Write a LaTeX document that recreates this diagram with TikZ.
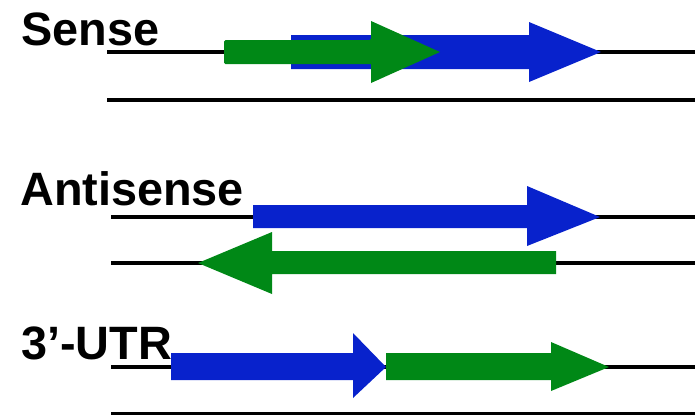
\documentclass[tikz,border=0pt]{standalone}
\usepackage{fontspec}
\setmainfont{Liberation Sans}
\definecolor{geneblue}{RGB}{8,34,204}
\definecolor{genegreen}{RGB}{0,136,22}
\begin{document}
\begin{tikzpicture}[x=1bp,y=-1bp,
  strand/.style={line width=4.5bp,black},
  bluearrow/.style={fill=geneblue,draw=none},
  greenarrow/.style={fill=genegreen,draw=none,rounded corners=1.5bp},
  label/.style={font=\bfseries\fontsize{47}{52}\selectfont,anchor=base west,inner sep=0pt}]
\useasboundingbox (0,0) rectangle (695,414);
% labels
\node[label] (sense) at (21,45) {Sense};
\node[label] (anti) at (20,205) {Antisense};
\node[label] (utr) at (21,359) {3’-UTR};
% strands
\coordinate (s1a) at (107,52); \coordinate (s1b) at (695,52);
\coordinate (s2a) at (107,100); \coordinate (s2b) at (695,100);
\coordinate (a1a) at (111,217); \coordinate (a1b) at (695,217);
\coordinate (a2a) at (111,263); \coordinate (a2b) at (695,263);
\coordinate (u1a) at (111,367); \coordinate (u1b) at (695,367);
\coordinate (u2a) at (111,413); \coordinate (u2b) at (695,413);
\draw[strand] (s1a) -- (s1b);
\draw[strand] (s2a) -- (s2b);
\draw[strand] (a1a) -- (a1b);
\draw[strand] (a2a) -- (a2b);
\draw[strand] (u1a) -- (u1b);
\draw[strand,line width=3bp] (u2a) -- (u2b);
% Sense arrows
\fill[bluearrow] (291,35) -- (529,35) -- (529,22) -- (601,52) -- (529,82) -- (529,69) -- (291,69) -- cycle;
\fill[greenarrow] (224,40) -- (371,40) [sharp corners] -- (371,21) -- (440,52) -- (371,83) -- (371,64) [rounded corners=1.5bp] -- (224,64) -- cycle;
% Antisense arrows
\fill[bluearrow] (253,205) -- (527,205) -- (527,186) -- (600,217) -- (527,246) -- (527,228) -- (253,228) -- cycle;
\fill[greenarrow,sharp corners] (556,251) -- (272,251) -- (272,232) -- (198,263) -- (272,294) -- (272,274) -- (556,274) -- cycle;
% 3'-UTR arrows
\fill[bluearrow] (171,353) -- (353,353) -- (353,333) -- (386,367) -- (353,398) -- (353,380) -- (171,380) -- cycle;
\fill[greenarrow,sharp corners] (386,353) -- (551,353) -- (551,342) -- (609,367) -- (551,391) -- (551,380) -- (386,380) -- cycle;
\end{tikzpicture}
\end{document}
